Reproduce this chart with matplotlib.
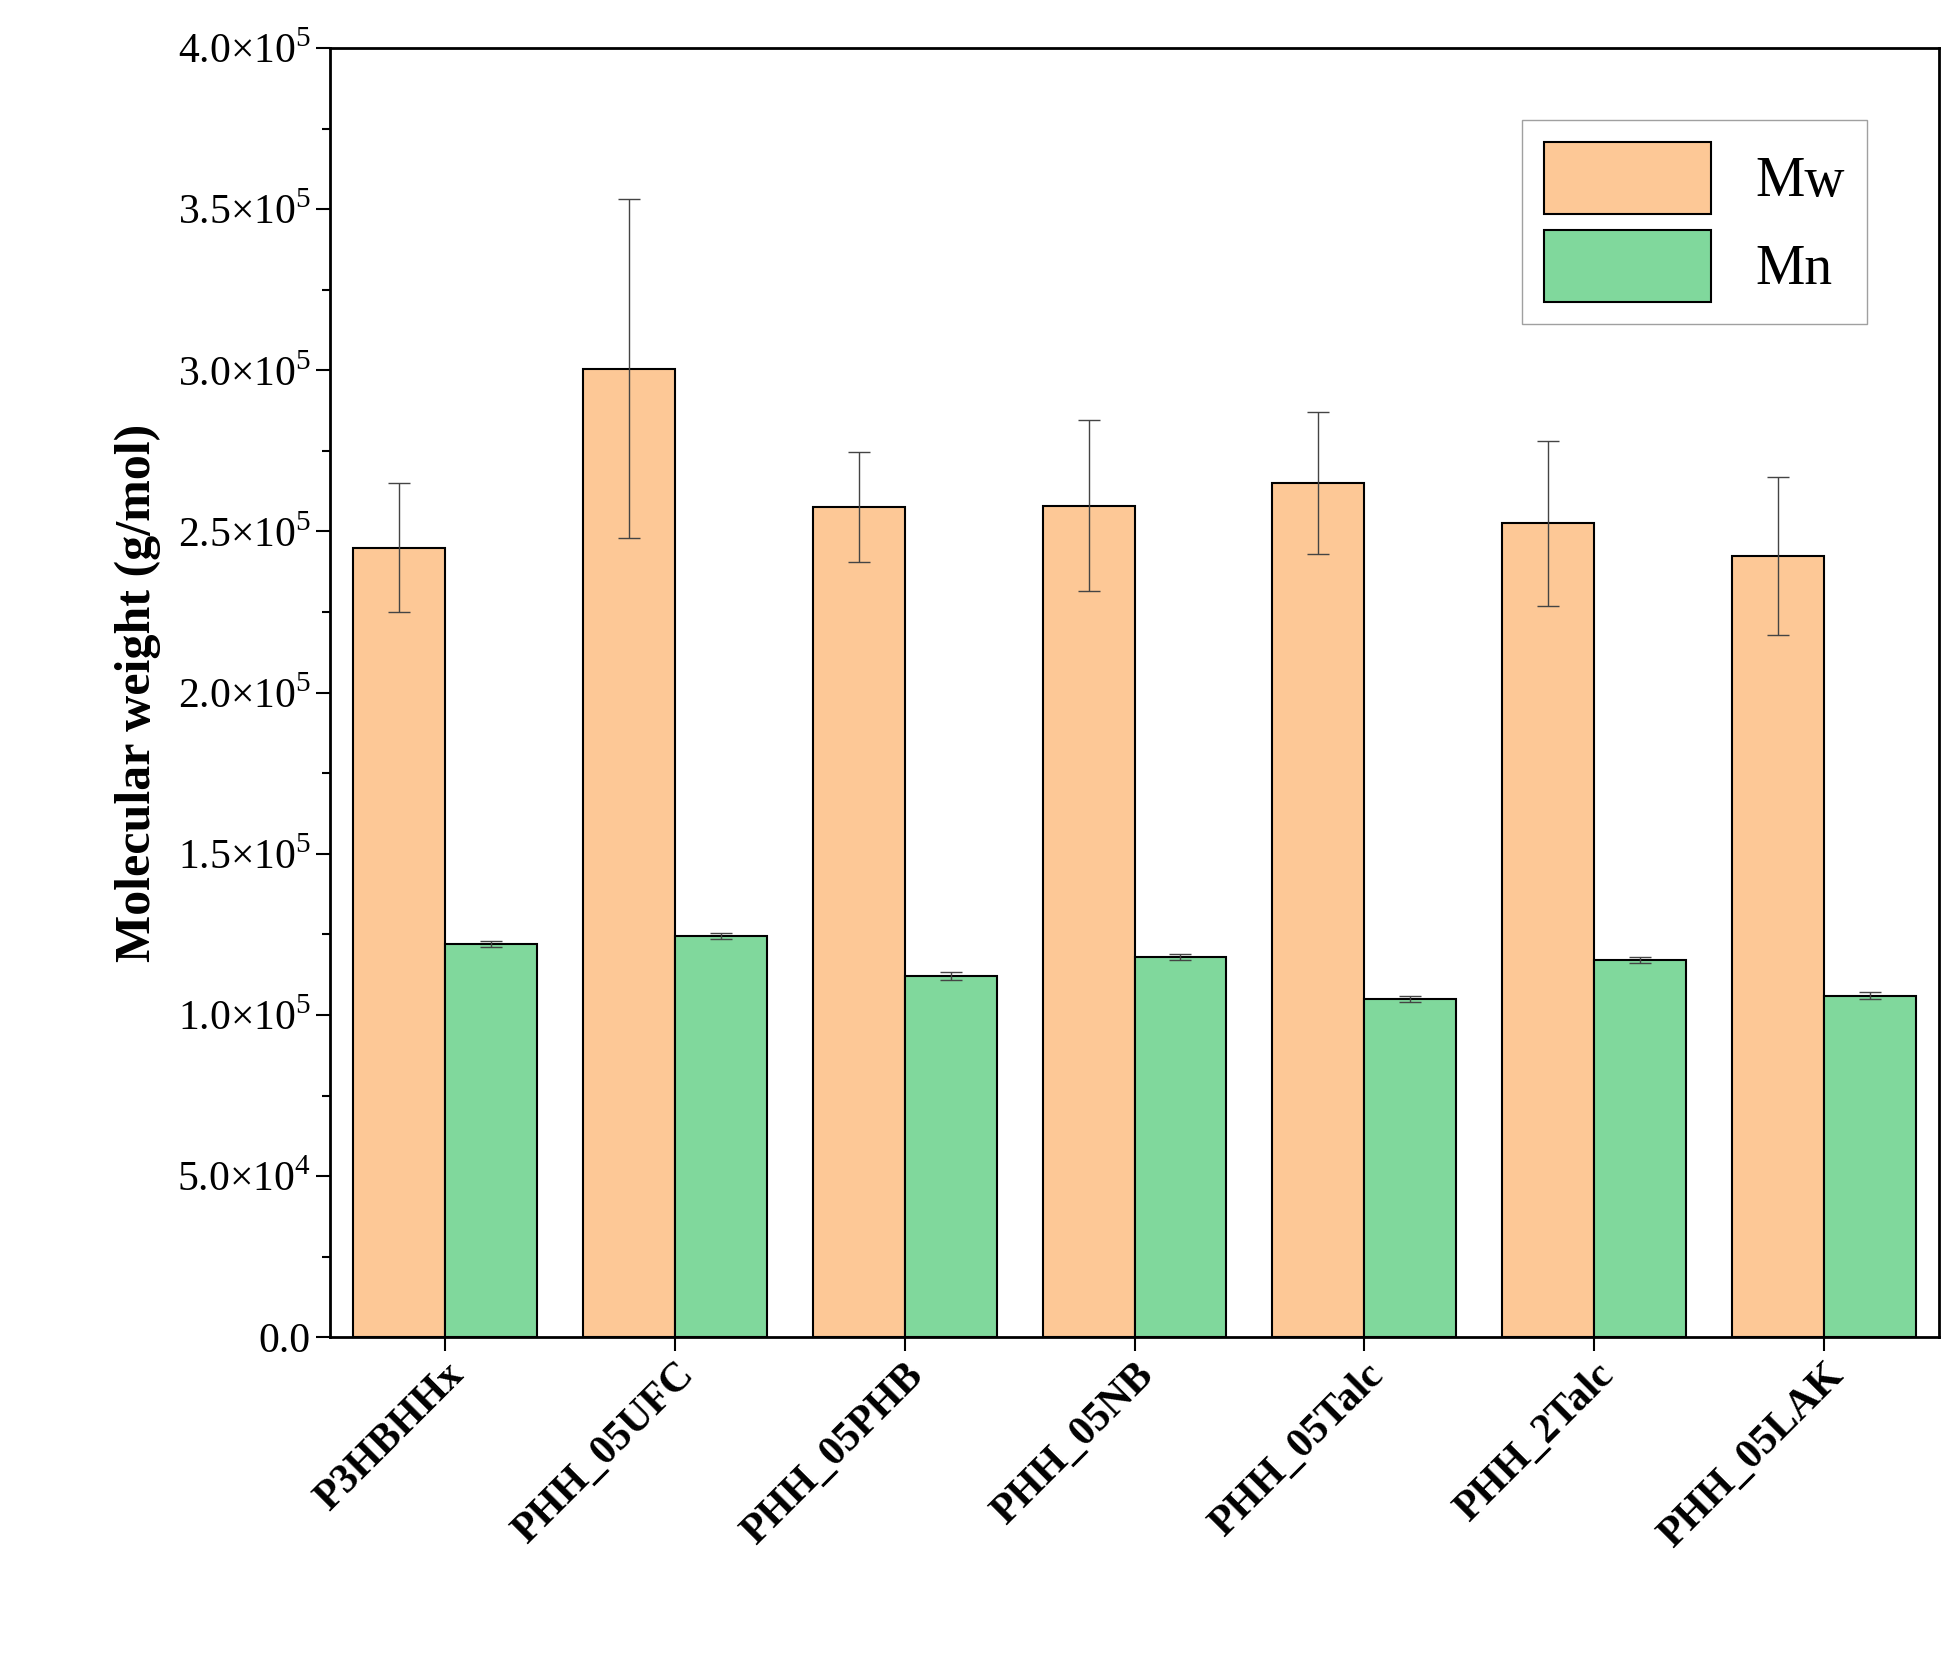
import matplotlib
matplotlib.use("Agg")
import matplotlib.pyplot as plt
import numpy as np
from matplotlib.ticker import FuncFormatter, MultipleLocator
from matplotlib.patches import Patch

categories = ["P3HBHHx", "PHH_05UFC", "PHH_05PHB", "PHH_05NB", "PHH_05Talc", "PHH_2Talc", "PHH_05LAK"]
mw = [245000, 300500, 257500, 258000, 265000, 252500, 242500]
mw_err = [20000, 52500, 17000, 26500, 22000, 25500, 24500]
mn = [122000, 124500, 112000, 118000, 105000, 117000, 106000]
mn_err = [1000, 1000, 1200, 1000, 1000, 1000, 1000]

plt.rcParams["font.family"] = "Liberation Serif"
plt.rcParams["mathtext.fontset"] = "custom"
plt.rcParams["mathtext.rm"] = "Liberation Serif"

fig = plt.figure(figsize=(19.51, 16.53), dpi=100)
ax = fig.add_axes([0.169, 0.191, 0.825, 0.78])
x = np.arange(len(categories))
w = 0.4
ekw = dict(elinewidth=1, capthick=1, ecolor="#444444")
ax.bar(x - w/2, mw, w, color="#FDC896", edgecolor="black", linewidth=1.5,
       yerr=mw_err, capsize=8, error_kw=ekw)
ax.bar(x + w/2, mn, w, color="#80D89C", edgecolor="black", linewidth=1.5,
       yerr=mn_err, capsize=8, error_kw=ekw)
ax.set_xlim(-0.5, 6.5)
ax.set_ylim(0, 400000)
ax.set_yticks(np.arange(0, 400001, 50000))
ax.yaxis.set_minor_locator(MultipleLocator(25000))

def fmt(v, p):
    if v <= 0:
        return "0.0"
    e = int(np.floor(np.log10(v)))
    m = v / 10**e
    return r"%.1f$\times$10$^{%d}$" % (m, e)
ax.yaxis.set_major_formatter(FuncFormatter(fmt))
ax.set_xticks(x)
ax.set_xticklabels(categories, rotation=45, ha="right", rotation_mode="anchor",
                   fontweight="bold", fontsize=30)
ax.tick_params(axis="y", labelsize=30, length=10, width=1.5)
ax.tick_params(axis="y", which="minor", length=6, width=1.5)
ax.tick_params(axis="x", length=10, width=1.5)
for s in ax.spines.values():
    s.set_linewidth(2)
ax.set_ylabel("Molecular weight (g/mol)", fontsize=36, fontweight="bold", labelpad=12)
handles = [Patch(facecolor="#FDC896", edgecolor="black", linewidth=1.5),
           Patch(facecolor="#80D89C", edgecolor="black", linewidth=1.5)]
ax.legend(handles, ["Mw", "Mn"], loc="upper right", fontsize=40, fancybox=False,
          edgecolor="#888888", handlelength=3.0, handleheight=1.6,
          borderaxespad=1.3, labelspacing=0.3)
fig.savefig("out.png", dpi=100)
